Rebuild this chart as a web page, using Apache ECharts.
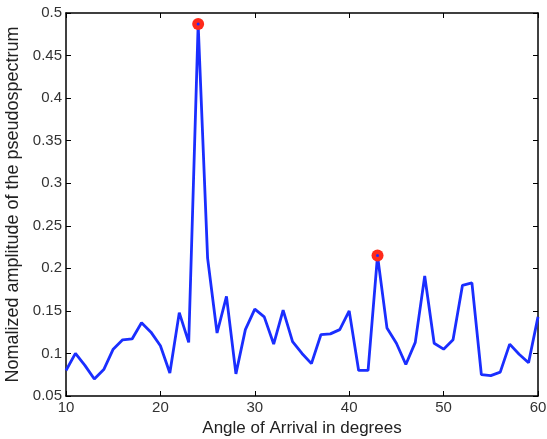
<!DOCTYPE html>
<html><head><meta charset="utf-8">
<script src="https://cdn.jsdelivr.net/npm/echarts@6/dist/echarts.min.js"></script>
<style>html,body{margin:0;padding:0;background:#fff}#c{width:547px;height:439px}</style>
</head><body><div id="c"></div>
<script>
const angles = [10,11,12,13,14,15,16,17,18,19,20,21,22,23,24,25,26,27,28,29,30,31,32,33,34,35,36,37,38,39,40,41,42,43,44,45,46,47,48,49,50,51,52,53,54,55,56,57,58,59,60];
const amplitude = [0.080,0.100,0.086,0.070,0.081,0.105,0.116,0.117,0.136,0.125,0.109,0.077,0.148,0.113,0.487,0.212,0.124,0.167,0.076,0.128,0.152,0.143,0.111,0.151,0.114,0.100,0.088,0.122,0.123,0.128,0.150,0.080,0.080,0.215,0.130,0.112,0.087,0.113,0.191,0.112,0.105,0.116,0.180,0.183,0.075,0.074,0.078,0.111,0.099,0.089,0.143];
const peakAngles = [24,43];
const peakValues = [0.487,0.215];
const xTicks = [10,20,30,40,50,60];
const yTicks = [0.05,0.1,0.15,0.2,0.25,0.3,0.35,0.4,0.45,0.5];

const lineData = angles.map((a,i)=>[a,amplitude[i]]);
const peakData = peakAngles.map((a,i)=>[a,peakValues[i]]);
const font = '"Liberation Sans", Arial, sans-serif';
const axisLineStyle = {lineStyle:{color:'#000',width:1.5}};
const chart = echarts.init(document.getElementById('c'));
chart.setOption({
  animation:false,
  grid:{left:66,top:13,right:9,bottom:43,show:false,containLabel:false,outerBoundsMode:'none'},
  xAxis:[{
    type:'value',min:10,max:60,interval:10,position:'bottom',
    name:'Angle of Arrival in degrees',nameLocation:'middle',nameGap:22,
    nameTextStyle:{fontFamily:font,fontSize:17,color:'#222'},
    axisLine:axisLineStyle,axisTick:{inside:true,length:5,lineStyle:{color:'#000'}},
    axisLabel:{fontFamily:font,fontSize:15,color:'#333',margin:4,formatter:v=>xTicks.includes(v)?String(v):''},
    splitLine:{show:false}
  },{
    type:'value',min:10,max:60,interval:10,position:'top',
    axisLine:axisLineStyle,axisTick:{inside:true,length:5,lineStyle:{color:'#000'}},
    axisLabel:{show:false},splitLine:{show:false}
  }],
  yAxis:[{
    type:'value',min:0.05,max:0.5,interval:0.05,position:'left',
    name:'Nomalized amplitude of the pseudospectrum',nameLocation:'middle',nameGap:40,nameRotate:90,
    nameTextStyle:{fontFamily:font,fontSize:18,color:'#222'},
    axisLine:axisLineStyle,axisTick:{inside:true,length:5,lineStyle:{color:'#000'}},
    axisLabel:{fontFamily:font,fontSize:15,color:'#333',margin:4,
      formatter:v=>{const t=yTicks.find(y=>Math.abs(y-v)<1e-9);return t===undefined?'':String(t);}},
    splitLine:{show:false}
  },{
    type:'value',min:0.05,max:0.5,interval:0.05,position:'right',
    axisLine:axisLineStyle,axisTick:{inside:true,length:5,lineStyle:{color:'#000'}},
    axisLabel:{show:false},splitLine:{show:false}
  }],
  series:[{
    type:'line',data:lineData,showSymbol:false,symbol:'none',
    lineStyle:{color:'#1a2eff',width:2.8},z:2
  },{
    type:'scatter',data:peakData,symbol:'circle',symbolSize:12,
    itemStyle:{color:'#ff2a1a',opacity:1},z:3
  },{
    type:'scatter',data:peakData,symbol:'circle',symbolSize:3,
    itemStyle:{color:'#1a2eff',opacity:1},z:4
  }]
});
</script></body></html>
